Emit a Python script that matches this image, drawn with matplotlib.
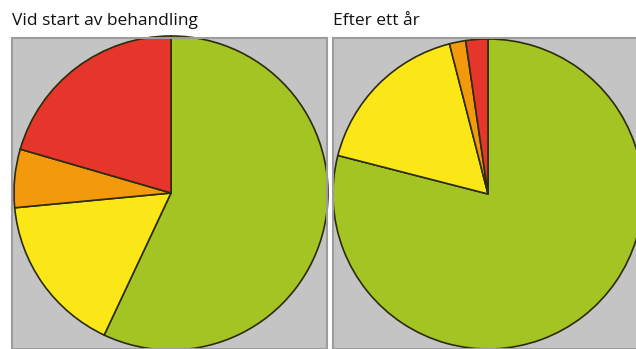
import matplotlib.pyplot as plt

# share of patients per category, clockwise from 12 o'clock
colors = ['#a4c424', '#fbe618', '#f39a0c', '#e6352b']
start_vals = [57.0, 16.5, 6.0, 20.5]
year_vals = [79.0, 17.0, 1.7, 2.3]
titles = ['Vid start av behandling', 'Efter ett år']

plt.rcParams['font.family'] = ['Open Sans', 'DejaVu Sans']

fig = plt.figure(figsize=(6.36, 3.49), dpi=100)
W, H = 636.0, 349.0

def panel(x0, x1, cx, cy, r, vals, title):
    ax = fig.add_axes([x0 / W, 0, (x1 - x0) / W, (H - 38) / H])
    ax.pie(vals, colors=colors, startangle=90, counterclock=False, radius=1,
           wedgeprops=dict(edgecolor='#2c2c0a', linewidth=1.2))
    ax.set_frame_on(True)
    ax.set_facecolor('#c4c4c4')
    ax.set_xlim((x0 - cx) / r, (x1 - cx) / r)
    ax.set_ylim((cy - H) / r, (cy - 38) / r)
    ax.set_aspect('auto')
    ax.set_xticks([])
    ax.set_yticks([])
    for s in ax.spines.values():
        s.set_color('#9c9c9c')
        s.set_linewidth(1.5)
    fig.text(x0 / W, 1 - 25 / H, title, fontsize=12.5, color='#111111')

panel(12, 327, 171, 193, 157, start_vals, titles[0])
panel(333, 640, 488, 194, 155, year_vals, titles[1])

fig.savefig('out.png', dpi=100)
